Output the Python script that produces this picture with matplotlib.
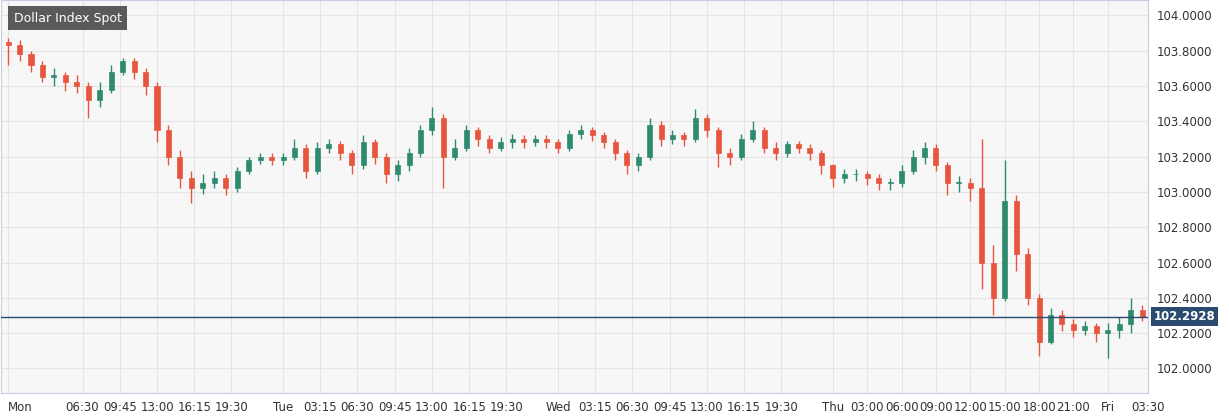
import matplotlib.pyplot as plt
from matplotlib.patches import Rectangle

# hourly candles, x in hours from Monday 00:00
closes = [103.83, 103.78, 103.72, 103.65, 103.66, 103.62, 103.60, 103.52, 103.58, 103.68,
          103.74, 103.68, 103.60, 103.35, 103.20, 103.08, 103.02, 103.05, 103.08, 103.02,
          103.12, 103.18, 103.20, 103.18, 103.20, 103.25, 103.12, 103.25, 103.27, 103.22,
          103.15, 103.28, 103.20, 103.10, 103.15, 103.22, 103.35, 103.42, 103.20, 103.25,
          103.35, 103.30, 103.25, 103.28, 103.30, 103.28, 103.30, 103.28, 103.25, 103.33,
          103.35, 103.32, 103.28, 103.22, 103.15, 103.20, 103.38, 103.30, 103.32, 103.30,
          103.42, 103.35, 103.22, 103.20, 103.30, 103.35, 103.25, 103.22, 103.27, 103.25,
          103.22, 103.15, 103.08, 103.10, 103.10, 103.08, 103.05, 103.05, 103.12, 103.20,
          103.25, 103.15, 103.05, 103.05, 103.02, 102.60, 102.40, 102.95, 102.65, 102.40,
          102.15, 102.30, 102.25, 102.22, 102.24, 102.20, 102.22, 102.25, 102.33, 102.29]
highs = [103.87, 103.86, 103.80, 103.74, 103.70, 103.68, 103.66, 103.62, 103.62, 103.72,
         103.76, 103.76, 103.70, 103.62, 103.38, 103.24, 103.12, 103.10, 103.12, 103.10,
         103.14, 103.20, 103.22, 103.22, 103.22, 103.30, 103.27, 103.28, 103.30, 103.29,
         103.24, 103.32, 103.30, 103.22, 103.18, 103.25, 103.38, 103.48, 103.44, 103.30,
         103.38, 103.37, 103.32, 103.31, 103.33, 103.32, 103.32, 103.32, 103.30, 103.35,
         103.38, 103.37, 103.34, 103.30, 103.24, 103.22, 103.42, 103.40, 103.35, 103.34,
         103.47, 103.44, 103.37, 103.25, 103.33, 103.40, 103.37, 103.28, 103.29, 103.29,
         103.27, 103.24, 103.16, 103.13, 103.13, 103.12, 103.10, 103.08, 103.15, 103.24,
         103.28, 103.27, 103.17, 103.09, 103.08, 103.30, 102.70, 103.18, 102.98, 102.68,
         102.42, 102.34, 102.33, 102.28, 102.27, 102.26, 102.26, 102.29, 102.40, 102.36]
lows = [103.72, 103.74, 103.68, 103.62, 103.60, 103.57, 103.56, 103.42, 103.48, 103.56,
        103.66, 103.64, 103.55, 103.28, 103.15, 103.02, 102.94, 102.99, 103.02, 102.98,
        103.00, 103.10, 103.16, 103.15, 103.15, 103.18, 103.08, 103.10, 103.22, 103.18,
        103.10, 103.13, 103.16, 103.05, 103.06, 103.12, 103.20, 103.32, 103.02, 103.18,
        103.23, 103.26, 103.22, 103.23, 103.25, 103.25, 103.26, 103.25, 103.22, 103.23,
        103.30, 103.29, 103.25, 103.18, 103.10, 103.12, 103.18, 103.26, 103.27, 103.26,
        103.28, 103.31, 103.14, 103.15, 103.18, 103.28, 103.22, 103.18, 103.20, 103.22,
        103.18, 103.10, 103.03, 103.05, 103.06, 103.04, 103.01, 103.01, 103.03, 103.10,
        103.16, 103.12, 102.98, 103.00, 102.95, 102.45, 102.30, 102.38, 102.55, 102.36,
        102.07, 102.14, 102.21, 102.18, 102.19, 102.15, 102.06, 102.17, 102.20, 102.27]
last_price = 102.2928

tick_pos = [0, 6.5, 9.75, 13, 16.25, 19.5, 24, 27.25, 30.5, 33.75, 37, 40.25, 43.5,
            48, 51.25, 54.5, 57.75, 61, 64.25, 67.5, 72, 75, 78, 81, 84, 87, 90, 93, 96, 99.5]
tick_labels = ['Mon', '06:30', '09:45', '13:00', '16:15', '19:30', 'Tue', '03:15', '06:30',
               '09:45', '13:00', '16:15', '19:30', 'Wed', '03:15', '06:30', '09:45', '13:00',
               '16:15', '19:30', 'Thu', '03:00', '06:00', '09:00', '12:00', '15:00', '18:00',
               '21:00', 'Fri', '03:30']
price_ticks = [102.0, 102.2, 102.4, 102.6, 102.8, 103.0, 103.2, 103.4, 103.6, 103.8, 104.0]

up_col, down_col = '#2e8b6e', '#e8553f'

fig = plt.figure(figsize=(12.29, 4.2), dpi=100)
ax = fig.add_axes([0.001, 0.064, 0.933, 0.935])
ax.set_facecolor('#f7f7f7')

opens = [closes[0] + 0.02] + closes[:-1]
for i, (o, h, l, c) in enumerate(zip(opens, highs, lows, closes)):
    col = up_col if c >= o else down_col
    ax.vlines(i, l, h, color=col, linewidth=1, zorder=2)
    ax.add_patch(Rectangle((i - 0.22, min(o, c)), 0.44, max(abs(c - o), 0.004),
                           facecolor=col, edgecolor=col, linewidth=0.5, zorder=3))

ax.axhline(last_price, color='#2b4a6f', linewidth=1, zorder=4)

ax.set_xlim(-0.6, 99.5)
ax.set_ylim(101.86, 104.085)
ax.yaxis.tick_right()
ax.set_yticks(price_ticks)
ax.set_yticklabels([f'{p:.4f}' for p in price_ticks], fontsize=8.5, color='#333333')
ax.set_xticks(tick_pos)
ax.set_xticklabels(tick_labels, fontsize=8.5, color='#333333')
ax.get_xticklabels()[0].set_ha('left')
ax.tick_params(length=0, pad=6)
ax.grid(True, color='#e4e4e4', linewidth=0.8, zorder=0)
for s in ax.spines.values():
    s.set_color('#c8cde0')

ax.text(1.005, last_price, f'{last_price:.4f}', transform=ax.get_yaxis_transform(),
        va='center', ha='left', fontsize=8.5, color='white', fontweight='bold',
        bbox=dict(boxstyle='square,pad=0.25', facecolor='#2b4a6f', edgecolor='none'), zorder=5)
ax.text(0.011, 0.955, 'Dollar Index Spot', transform=ax.transAxes, fontsize=9,
        color='white', va='center', ha='left',
        bbox=dict(boxstyle='square,pad=0.45', facecolor='#5a5a5a', edgecolor='none'))

fig.savefig('out.png', dpi=100)
